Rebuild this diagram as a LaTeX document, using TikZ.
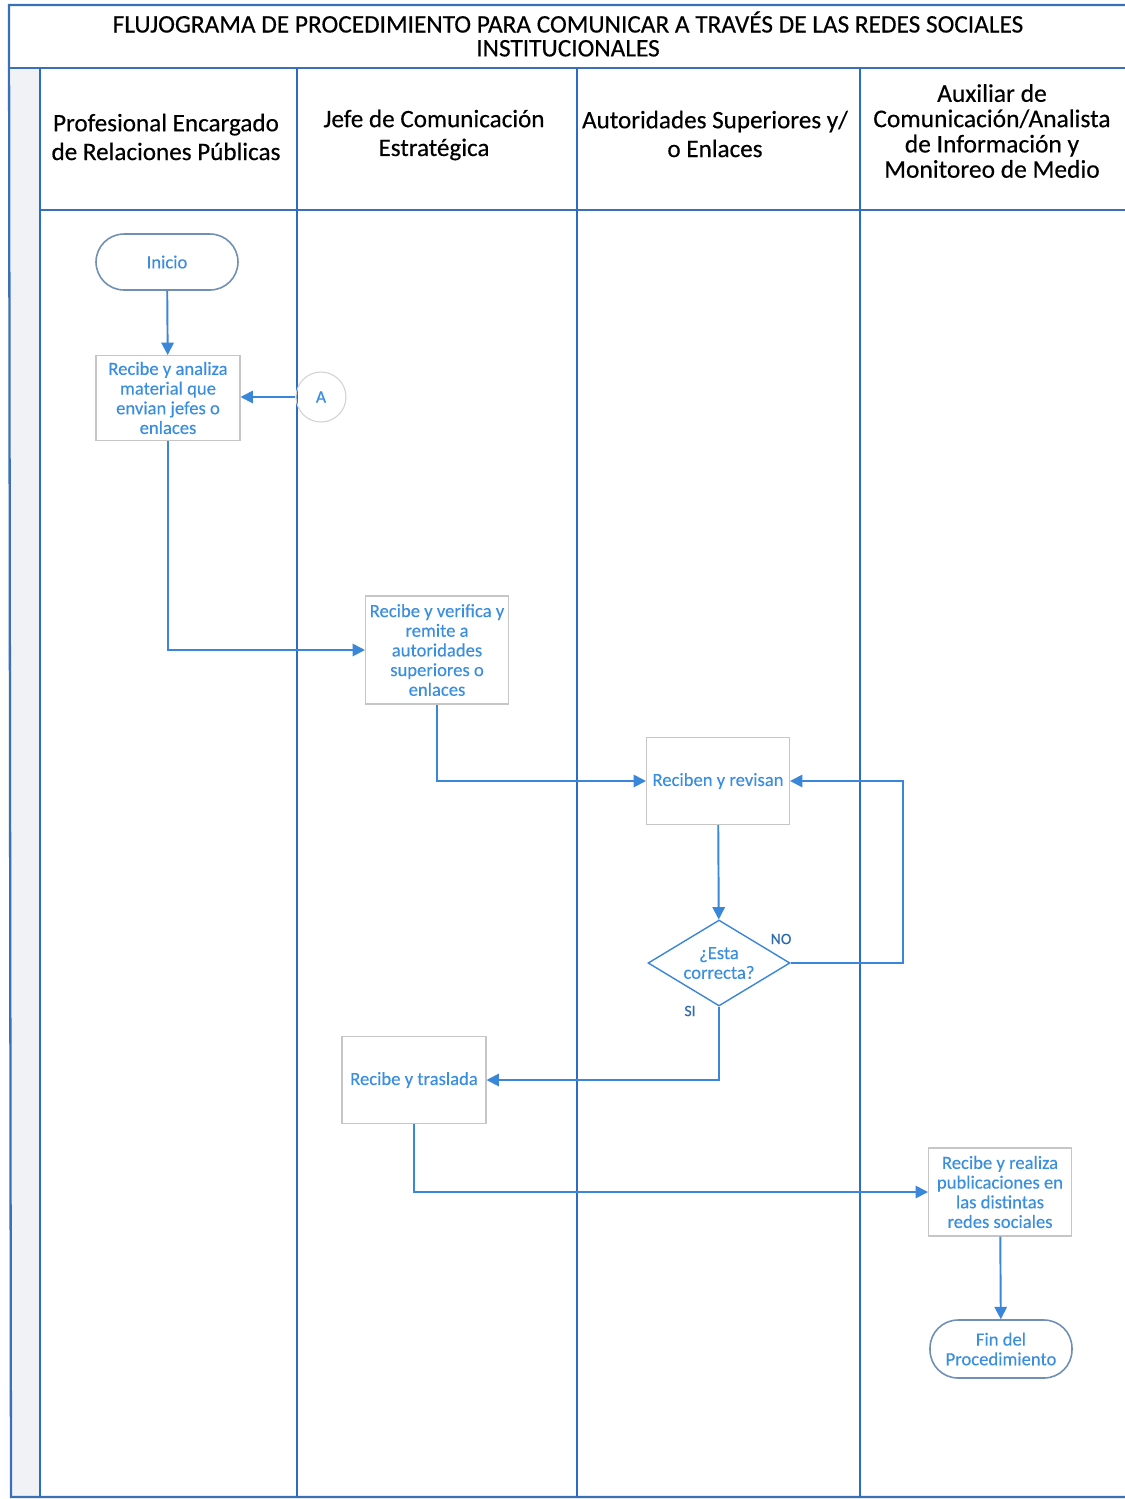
\documentclass[tikz,border=0pt]{standalone}
\usepackage{fontspec}
\setmainfont{Carlito}
\newfontfamily\hdrfont{Carlito}[FakeBold=0.35]
\newfontfamily\boxfont{Carlito}[FakeBold=0.2]
\usetikzlibrary{arrows.meta,shapes.geometric}
\definecolor{laneblue}{HTML}{2B6CC4}
\definecolor{arrblue}{HTML}{3A86D8}
\definecolor{txtblue}{HTML}{3A8EE0}
\definecolor{pillblue}{HTML}{6F8FB5}
\definecolor{stripgray}{HTML}{F1F2F6}
\tikzset{
  lane/.style={draw=laneblue, line width=1.1pt},
  frame/.style={draw=laneblue!80!gray, line width=1.3pt},
  hdr/.style={align=center, font=\hdrfont\fontsize{14.3}{16.4}\selectfont, text=black},
  ttl/.style={align=center, font=\hdrfont\fontsize{14.4}{13.6}\selectfont, text=black},
  proc/.style={rectangle, draw=gray!45, line width=0.6pt, align=center, text=txtblue,
     font=\boxfont\fontsize{10.6}{11.2}\selectfont, inner sep=2pt},
  pill/.style={rectangle, rounded corners=0.56cm, draw=pillblue, line width=0.9pt, align=center,
     text=txtblue, font=\boxfont\fontsize{10.6}{11.2}\selectfont, minimum width=2.84cm},
  conn/.style={circle, draw=gray!35, line width=0.6pt, text=txtblue,
     font=\hdrfont\fontsize{10}{11}\selectfont, minimum size=1.0cm, inner sep=0pt},
  dec/.style={diamond, draw=arrblue, line width=0.8pt, align=center, text=txtblue,
     font=\boxfont\fontsize{10.6}{11.2}\selectfont, minimum width=2.84cm, minimum height=1.72cm, inner sep=0pt, aspect=1.65},
  arr/.style={draw=arrblue, line width=1.1pt, -{Triangle[width=7pt,length=7pt]}},
  lbl/.style={text=arrblue!80!black, font=\boxfont\fontsize{9}{10}\selectfont},
}
\begin{document}
\begin{tikzpicture}[x=0.02cm,y=-0.02cm]
\useasboundingbox (0,0) rectangle (1125,1499);
\fill[white] (0,0) rectangle (1125,1499);
% left strip
\fill[stripgray] (11,68) rectangle (40,1497);
% frame
\draw[frame] (1125,5) -- (9,5) -- (11,1497) -- (1125,1497);
\draw[frame] (9,68) -- (1125,68);
\draw[frame] (40,210) -- (1125,210);
\draw[lane] (40,68) -- (40,1497);
\draw[lane] (297,68) -- (297,1497);
\draw[lane] (577,68) -- (577,1497);
\draw[lane] (860,68) -- (860,1497);

% title
\node[ttl] (title) at (568,34) {FLUJOGRAMA DE PROCEDIMIENTO PARA COMUNICAR A TRAVÉS DE LAS REDES SOCIALES\\INSTITUCIONALES};
% lane headers
\node[hdr] (h1) at (166,137) {Profesional Encargado\\de Relaciones Públicas};
\node[hdr] (h2) at (434,135) {Jefe de Comunicación\\Estratégica};
\node[hdr] (h3) at (715,134) {Autoridades Superiores y/\\o Enlaces};
\node[hdr, font=\hdrfont\fontsize{14.5}{14.4}\selectfont] (h4) at (992,131) {Auxiliar de\\Comunicación/Analista\\de Información y\\Monitoreo de Medio};

% nodes
\node[pill, minimum height=1.12cm] (inicio) at (167,262) {Inicio};
\node[proc, minimum width=2.88cm, minimum height=1.7cm] (b1) at (168,398) {Recibe y analiza\\material que\\envian jefes o\\enlaces};
\node[conn] (A) at (321,397) {A};
\node[proc, minimum width=2.86cm, minimum height=2.16cm] (b2) at (437,650) {Recibe y verifica y\\remite a\\autoridades\\superiores o\\enlaces};
\node[proc, minimum width=2.86cm, minimum height=1.74cm] (b3) at (718,781) {Reciben y revisan};
\node[dec] (d) at (719,963) {¿Esta\\correcta?};
\node[proc, minimum width=2.88cm, minimum height=1.74cm] (b4) at (414,1080) {Recibe y traslada};
\node[proc, minimum width=2.86cm, minimum height=1.76cm] (b5) at (1000,1192) {Recibe y realiza\\publicaciones en\\las distintas\\redes sociales};
\node[pill, minimum height=1.16cm] (fin) at (1001,1349) {Fin del\\Procedimiento};

\coordinate (noturn) at (903,963);

% connectors
\draw[arr] (inicio) -- (b1);
\draw[arr] (A.west) -- (A.west -| b1.east);
\draw[arr] (b1) |- (b2);
\draw[arr] (b2) |- (b3);
\draw[arr] (b3) -- (d);
\draw[arr] (d.east) -- (noturn) |- (b3.east);
\draw[arr] (d.south) |- (b4.east);
\draw[arr] (b4) |- (b5);
\draw[arr] (b5) -- (fin);

\node[lbl] (no) at (781,939) {NO};
\node[lbl] (si) at (690,1011) {SI};
\end{tikzpicture}
\end{document}
